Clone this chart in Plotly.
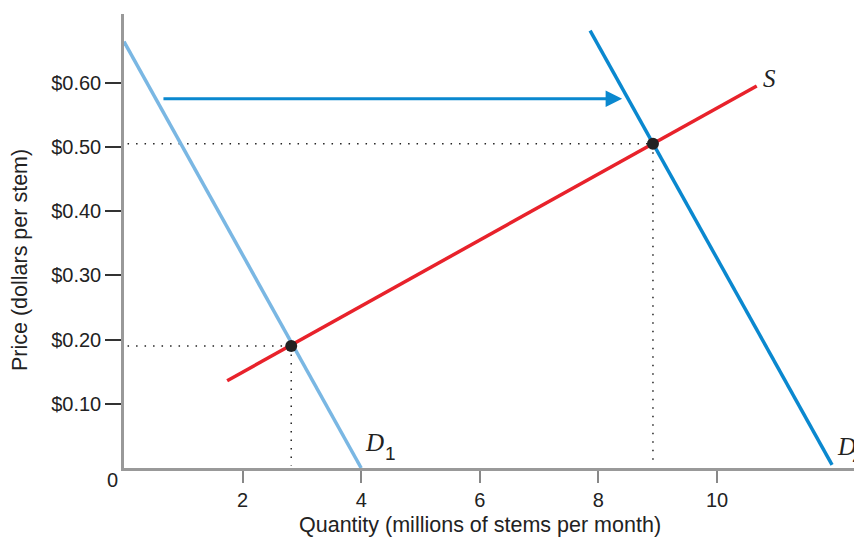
import plotly.graph_objects as go

# Data (quantity in millions of stems/month, price in $/stem)
d1_q = [0.0, 4.0]
d1_p = [0.664, 0.0]
d2_q = [7.86, 11.94]
d2_p = [0.681, 0.005]
s_q = [1.74, 10.67]
s_p = [0.136, 0.595]
eq_q = [2.82, 8.92]
eq_p = [0.19, 0.505]
arrow_q = [0.64, 8.40]
arrow_p = 0.575

x_ticks = [2, 4, 6, 8, 10]
y_ticks = [0.1, 0.2, 0.3, 0.4, 0.5, 0.6]
y_labels = ["$0.10", "$0.20", "$0.30", "$0.40", "$0.50", "$0.60"]
x_title = "Quantity (millions of stems per month)"
y_title = "Price (dollars per stem)"

SANS = "Liberation Sans, Arial, sans-serif"
SERIF = "Liberation Serif, Times New Roman, serif"
C_D1 = "#7ab7e3"
C_D2 = "#0a88cf"
C_S = "#e8222b"
TXT = "#222"

fig = go.Figure()

# dotted guide lines
for q, p in zip(eq_q, eq_p):
    fig.add_trace(go.Scatter(x=[0.06, q], y=[p, p], mode="lines",
                             line=dict(color=TXT, width=1.5, dash="1.5px,7px"),
                             hoverinfo="skip", showlegend=False))
    fig.add_trace(go.Scatter(x=[q, q], y=[p, 0.004], mode="lines",
                             line=dict(color=TXT, width=1.5, dash="1.5px,7px"),
                             hoverinfo="skip", showlegend=False))

fig.add_trace(go.Scatter(x=d1_q, y=d1_p, mode="lines", line=dict(color=C_D1, width=3.5),
                         showlegend=False, name="D1"))
fig.add_trace(go.Scatter(x=d2_q, y=d2_p, mode="lines", line=dict(color=C_D2, width=3.5),
                         showlegend=False, name="D2"))
fig.add_trace(go.Scatter(x=s_q, y=s_p, mode="lines", line=dict(color=C_S, width=3.5),
                         showlegend=False, name="S"))
fig.add_trace(go.Scatter(x=eq_q, y=eq_p, mode="markers",
                         marker=dict(color=TXT, size=12), showlegend=False))

# arrow
fig.add_annotation(x=arrow_q[1], y=arrow_p, ax=arrow_q[0], ay=arrow_p,
                   xref="x", yref="y", axref="x", ayref="y", text="",
                   showarrow=True, arrowhead=2, arrowsize=1.1, arrowwidth=3,
                   arrowcolor=C_D2, standoff=0, startstandoff=0)

# curve labels
def label(x, y, text, family, size, xref="x", xshift=0, xanchor="center"):
    fig.add_annotation(x=x, y=y, xref=xref, text=text, showarrow=False, xanchor=xanchor,
                       xshift=xshift, yanchor="middle",
                       font=dict(family=family, size=size, color=TXT))

label(10.885, 0.607, "<i>S</i>", SERIF, 25)
label(4.22, 0.039, "<i>D</i>", SERIF, 25)
label(4.49, 0.023, "1", SANS, 19)
label(12.19, 0.034, "<i>D</i>", SERIF, 25)
label(1.0, 0.020, "2", SANS, 19, xref="paper", xshift=-12, xanchor="left")

fig.add_annotation(x=0, y=0, xref="paper", yref="paper", text="0", showarrow=False,
                   xanchor="right", yanchor="top", xshift=-4, yshift=1,
                   font=dict(family=SANS, size=20, color=TXT))

# axis titles
fig.add_annotation(x=0.4824, y=0, xref="paper", yref="paper", text=x_title,
                   showarrow=False, xanchor="center", yanchor="middle", yshift=-57,
                   font=dict(family=SANS, size=21.5, color=TXT))
fig.add_annotation(x=0, y=0.458, xref="paper", yref="paper", text=y_title,
                   showarrow=False, xanchor="center", yanchor="middle", xshift=-104,
                   textangle=-90, font=dict(family=SANS, size=21.5, color=TXT))

fig.update_layout(
    width=854, height=529,
    margin=dict(l=116, r=0, t=6, b=69),
    plot_bgcolor="white", paper_bgcolor="white",
    font=dict(family=SANS, size=20, color=TXT),
    xaxis=dict(range=[0, 12.445], tickvals=x_ticks, ticks="outside", ticklen=12,
               tickwidth=2, tickcolor="#888", showline=True, linecolor="#999", linewidth=2.5,
               showgrid=False, zeroline=False),
    yaxis=dict(range=[0, 0.707], tickvals=y_ticks, ticktext=y_labels, ticks="outside",
               ticklen=16, tickwidth=1.5, tickcolor="#333", showline=True, linecolor="#999",
               linewidth=2.5, showgrid=False, zeroline=False),
)

fig.write_html("out.html")
